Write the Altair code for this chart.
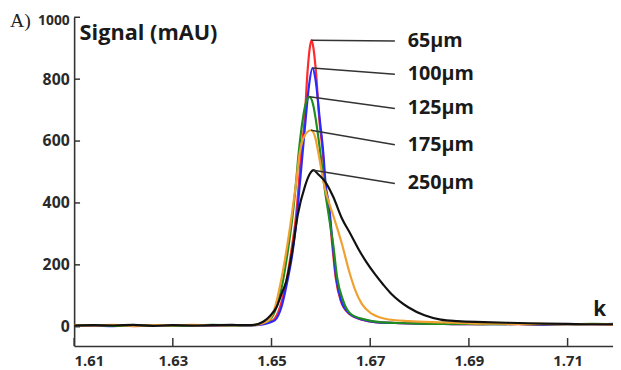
import altair as alt
import pandas as pd

# ---- data ----
series_names = ["65µm", "100µm", "125µm", "175µm", "250µm"]
series_colors = ["#ff2a2a", "#2a2aff", "#1e8c1e", "#f0a030", "#111111"]

k65 = [1.6100, 1.6140, 1.6180, 1.6220, 1.6260, 1.6300, 1.6340, 1.6380, 1.6420, 1.6450,
       1.6470, 1.6485, 1.6495, 1.6503, 1.6517, 1.6529, 1.6540, 1.6549, 1.6555, 1.6560,
       1.6567, 1.6573, 1.6577, 1.6581, 1.6585, 1.6590, 1.6597, 1.6604, 1.6609, 1.6615,
       1.6623, 1.6630, 1.6640, 1.6657, 1.6683, 1.6710, 1.6750, 1.6800, 1.6850, 1.6900,
       1.6950, 1.7000, 1.7050, 1.7100, 1.7150, 1.7192]
s65 = [4, 3, 5, 2, 4, 5, 3, 5, 4, 5,
       6, 10, 16, 21, 63, 138, 244, 349, 455, 561,
       667, 825, 895, 926, 900, 825, 667, 561, 455, 400,
       266, 159, 85, 42, 23, 15, 12, 10, 9, 8,
       9, 8, 7, 8, 8, 7]

k100 = [1.6100, 1.6140, 1.6180, 1.6220, 1.6260, 1.6300, 1.6340, 1.6380, 1.6420, 1.6450,
        1.6470, 1.6485, 1.6497, 1.6507, 1.6520, 1.6531, 1.6543, 1.6551, 1.6557, 1.6563,
        1.6569, 1.6576, 1.6583, 1.6589, 1.6598, 1.6605, 1.6610, 1.6616, 1.6624, 1.6631,
        1.6641, 1.6658, 1.6685, 1.6710, 1.6750, 1.6800, 1.6850, 1.6900, 1.6950, 1.7000,
        1.7050, 1.7100, 1.7150, 1.7192]
s100 = [3, 4, 2, 5, 3, 4, 5, 3, 5, 4,
        5, 8, 14, 21, 63, 138, 244, 349, 455, 561,
        667, 780, 836, 800, 667, 561, 455, 400, 266, 159,
        85, 42, 23, 15, 12, 10, 9, 8, 8, 9,
        7, 8, 8, 9]

k125 = [1.6100, 1.6140, 1.6180, 1.6220, 1.6260, 1.6300, 1.6340, 1.6380, 1.6420, 1.6445,
        1.6465, 1.6482, 1.6496, 1.6510, 1.6522, 1.6533, 1.6542, 1.6549, 1.6555, 1.6563,
        1.6570, 1.6577, 1.6584, 1.6590, 1.6599, 1.6607, 1.6617, 1.6625, 1.6633, 1.6645,
        1.6660, 1.6690, 1.6720, 1.6760, 1.6800, 1.6850, 1.6900, 1.6950, 1.7000, 1.7050,
        1.7100, 1.7150, 1.7192]
s125 = [4, 5, 3, 4, 5, 3, 4, 6, 4, 5,
        6, 12, 21, 63, 138, 244, 349, 455, 561, 667,
        725, 743, 720, 667, 561, 455, 349, 266, 159, 85,
        42, 23, 15, 12, 10, 9, 9, 8, 9, 8,
        8, 9, 8]

k175 = [1.6100, 1.6140, 1.6180, 1.6220, 1.6260, 1.6300, 1.6340, 1.6380, 1.6420, 1.6440,
        1.6460, 1.6480, 1.6495, 1.6507, 1.6518, 1.6530, 1.6540, 1.6549, 1.6557, 1.6568,
        1.6580, 1.6588, 1.6595, 1.6607, 1.6625, 1.6643, 1.6657, 1.6670, 1.6683, 1.6703,
        1.6730, 1.6777, 1.6850, 1.6900, 1.6950, 1.7000, 1.7050, 1.7100, 1.7150, 1.7192]
s175 = [5, 4, 6, 3, 5, 4, 6, 4, 5, 5,
        5, 10, 21, 63, 138, 244, 349, 455, 561, 620,
        635, 615, 561, 455, 360, 266, 181, 117, 74, 42,
        26, 18, 14, 11, 10, 9, 9, 8, 8, 8]

k250 = [1.6100, 1.6140, 1.6180, 1.6220, 1.6260, 1.6300, 1.6340, 1.6380, 1.6420, 1.6440,
        1.6460, 1.6483, 1.6497, 1.6510, 1.6520, 1.6530, 1.6543, 1.6553, 1.6568, 1.6578,
        1.6585, 1.6595, 1.6610, 1.6625, 1.6643, 1.6660, 1.6677, 1.6693, 1.6710, 1.6727,
        1.6743, 1.6760, 1.6777, 1.6810, 1.6843, 1.6877, 1.6930, 1.7000, 1.7050, 1.7100,
        1.7150, 1.7192]
s250 = [4, 5, 4, 6, 3, 5, 4, 5, 6, 5,
        5, 16, 35, 63, 105, 148, 254, 360, 455, 495,
        506, 492, 466, 420, 349, 300, 249, 207, 169, 135,
        106, 82, 63, 37, 23, 18, 15, 12, 10, 9,
        8, 8]

series_k = [k65, k100, k125, k175, k250]
series_s = [s65, s100, s125, s175, s250]

# annotation leader lines: from peak to label
ann_k0 = [1.6581, 1.6583, 1.6577, 1.6580, 1.6585]
ann_s0 = [926, 836, 743, 635, 506]
ann_k1 = [1.6750, 1.6750, 1.6750, 1.6750, 1.6750]
ann_s1 = [923, 816, 705, 588, 463]

x_ticks = [1.61, 1.63, 1.65, 1.67, 1.69, 1.71]
y_ticks = [0, 200, 400, 600, 800, 1000]

# ---- build ----
rows = []
for name, ks, ss in zip(series_names, series_k, series_s):
    for k, s in zip(ks, ss):
        rows.append({"series": name, "k": k, "s": s})
df = pd.DataFrame(rows)

ann = pd.DataFrame({"k0": ann_k0, "s0": ann_s0, "k1": ann_k1, "s1": ann_s1,
                    "label": series_names})

W, H = 546, 333
xscale = alt.Scale(domain=[1.61, 1.7192], nice=False, zero=False)
yscale = alt.Scale(domain=[-62, 1000], nice=False, zero=False)

FONT = "Open Sans"
AX = "#333333"

xaxis = alt.Axis(values=x_ticks, format=".2f", ticks=False, grid=False,
                 domainColor=AX, domainWidth=1.6, labelFont=FONT, labelFontSize=15,
                 labelFontWeight="bold", labelColor="#2a2a2a", labelPadding=8,
                 title="k", titleX=532, titleY=-37, titleAlign="center",
                 titleBaseline="middle", titleFont=FONT, titleFontSize=21,
                 titleFontWeight="bold", titleColor="#1a1a1a")
yaxis = alt.Axis(values=y_ticks, format="d", ticks=False, grid=False,
                 domainColor=AX, domainWidth=1.6, labelFont=FONT,
                 labelFontSize={"expr": "datum.value == 1000 ? 14 : 16"},
                 labelOffset={"expr": "datum.value == 1000 ? 3 : 0"},
                 labelFontWeight="bold", labelColor="#2a2a2a", labelPadding=5,
                 title="Signal (mAU)", titleAngle=0, titleX=5, titleY=16,
                 titleAlign="left", titleBaseline="middle", titleFont=FONT,
                 titleFontSize=22, titleFontWeight="bold", titleColor="#1a1a1a")

def X(field):
    return alt.X(field, scale=xscale, axis=xaxis)

def Y(field):
    return alt.Y(field, scale=yscale, axis=yaxis)

layers = []
for name, col in zip(series_names, series_colors):
    layers.append(
        alt.Chart(df).transform_filter(alt.datum.series == name)
        .mark_line(color=col, strokeWidth=2.2, interpolate="monotone")
        .encode(x=X("k:Q"), y=Y("s:Q"), order="k:Q")
    )

xt = alt.Chart(pd.DataFrame({"v": x_ticks})).mark_rule(color=AX, strokeWidth=1.5).encode(
    x=X("v:Q"), y=alt.value(H), y2=alt.value(H - 8))
yt = alt.Chart(pd.DataFrame({"v": y_ticks})).mark_rule(color=AX, strokeWidth=1.5).encode(
    y=Y("v:Q"), x=alt.value(0), x2=alt.value(6))

lead = alt.Chart(ann).mark_rule(color="#333333", strokeWidth=1.5).encode(
    x=X("k0:Q"), y=Y("s0:Q"), x2="k1:Q", y2="s1:Q")
labels = alt.Chart(ann).mark_text(align="left", baseline="middle", dx=13, font=FONT,
                                  fontSize=20, fontWeight="bold", color="#1a1a1a").encode(
    x=X("k1:Q"), y=Y("s1:Q"), text="label:N")

panel = alt.Chart(pd.DataFrame({"t": ["A)"]})).mark_text(
    align="left", baseline="middle", font="Liberation Serif", fontSize=20,
    color="#222222").encode(x=alt.value(-65), y=alt.value(4), text="t:N")

chart = alt.layer(*layers, xt, yt, lead, labels, panel).properties(
    width=W, height=H,
    padding={"left": 67, "top": 7, "right": 0, "bottom": 22},
    autosize=alt.AutoSizeParams(type="none"),
    background="white",
).configure_view(stroke=None)

chart.save("out.html", embed_options={"renderer": "svg", "actions": False})
